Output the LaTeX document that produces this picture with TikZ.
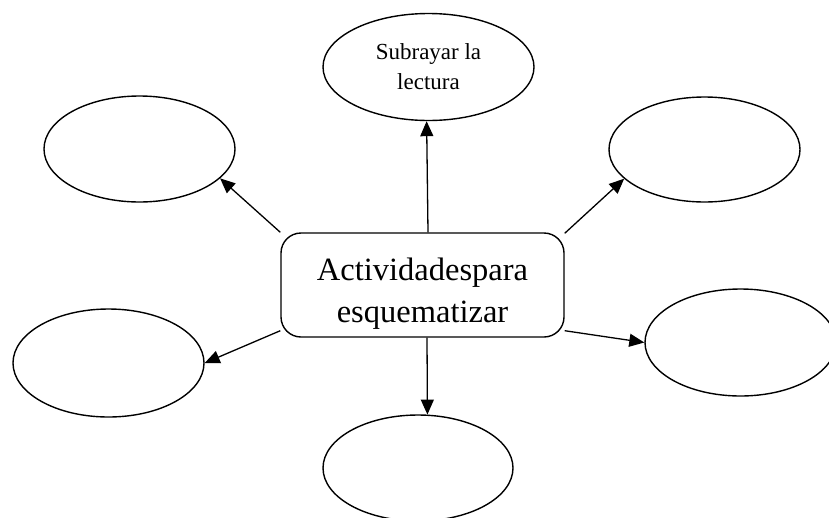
\documentclass[tikz,border=0pt]{standalone}
\usepackage{fontspec}
\setmainfont{Liberation Serif}
\usetikzlibrary{arrows.meta,shapes.geometric}
\tikzset{
  bubble/.style={ellipse, draw, line width=1.4pt, inner sep=0pt, minimum width=191pt, minimum height=106pt},
  centralbox/.style={draw, line width=1.4pt, rounded corners=20pt, inner sep=0pt, minimum width=283pt, minimum height=104pt, align=center, font=\fontsize{32.5pt}{41pt}\selectfont},
  link/.style={line width=1.3pt, -{Triangle[length=15pt,width=13pt]}}
}
\begin{document}
\begin{tikzpicture}[x=1pt,y=-1pt]
\clip (0,0) rectangle (829,517);
\fill[white] (0,0) rectangle (829,517);
\node[centralbox] (box) at (422.5,285) {\raisebox{-15pt}[0pt][0pt]{\begin{tabular}{@{}c@{}}Actividadespara\\[1pt]esquematizar\end{tabular}}};
\node[bubble, minimum width=211pt, minimum height=107pt, align=center, font=\fontsize{23pt}{30pt}\selectfont] (top) at (428.5,67) {Subrayar la\\lectura};
\node[bubble] (ul) at (139.5,149) {};
\node[bubble, minimum height=105pt] (ur) at (704.5,149.5) {};
\node[bubble, minimum height=108pt] (ll) at (108.5,363) {};
\node[bubble, minimum height=107pt] (lr) at (740.5,342.5) {};
\node[bubble, minimum width=190pt] (bot) at (418,468) {};
\draw[link] ([xshift=5.5pt]box.north) -- (top.-92);
\draw[link] (box.north west) -- (ul.-20);
\draw[link] ([yshift=-1pt]box.north east) -- (ur.-160);
\draw[link] ([yshift=7pt]box.south west) -- (ll.0);
\draw[link] ([yshift=7pt]box.south east) -- (lr.180);
\draw[link] ([xshift=4.5pt]box.south) -- (bot.80);
\end{tikzpicture}
\end{document}
